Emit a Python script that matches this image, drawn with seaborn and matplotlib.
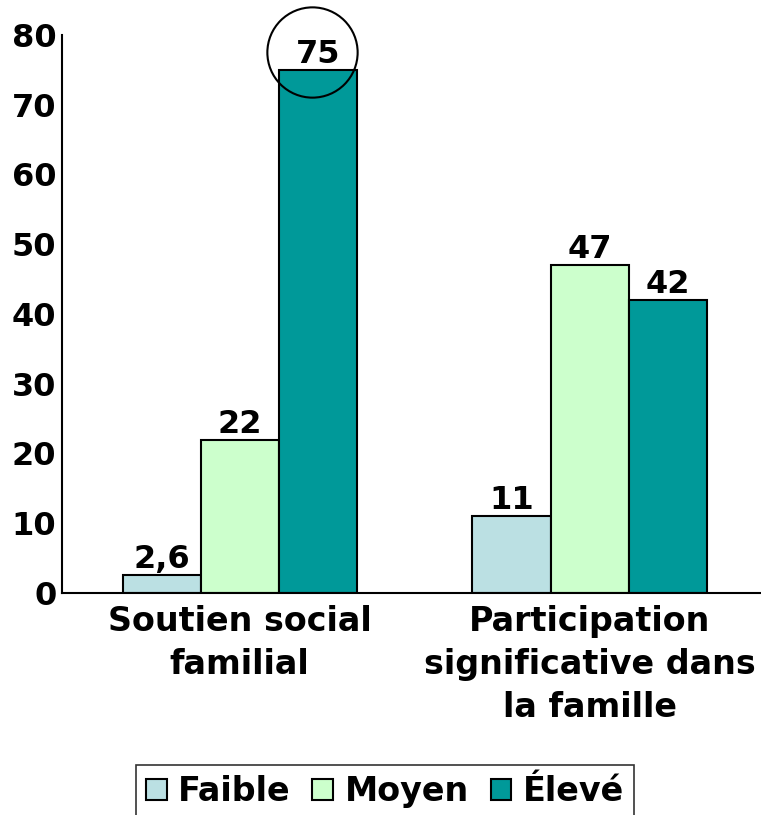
import matplotlib
matplotlib.use("Agg")
import matplotlib.pyplot as plt
import pandas as pd
import seaborn as sns

# Data
categories = ["Soutien social\nfamilial", "Participation\nsignificative dans\nla famille"]
levels = ["Faible", "Moyen", "Élevé"]
faible = [2.6, 11]
moyen = [22, 47]
eleve = [75, 42]
level_colors = ["#BBE0E3", "#CCFFCC", "#009999"]
y_ticks = [0, 10, 20, 30, 40, 50, 60, 70, 80]

rows = []
for level, values in zip(levels, [faible, moyen, eleve]):
    for cat, val in zip(categories, values):
        rows.append({"categorie": cat, "niveau": level, "valeur": val})
df = pd.DataFrame(rows)

sns.set_style("white")
plt.rcParams["font.family"] = ["DejaVu Sans"]
plt.rcParams["font.weight"] = "bold"
plt.rcParams["text.color"] = "black"
plt.rcParams["xtick.color"] = "black"
plt.rcParams["ytick.color"] = "black"

fig = plt.figure(figsize=(7.61, 8.15), dpi=100)
ax = fig.add_axes([0.0815, 0.2724, 0.9185, 0.6847])

sns.barplot(
    data=df, x="categorie", y="valeur", hue="niveau",
    hue_order=levels, palette=level_colors, saturation=1, width=0.67,
    edgecolor="black", linewidth=1.5, ax=ax, legend=True,
)

ax.set_xlim(-0.508, 1.49)
ax.set_ylim(0, 80)
ax.set_yticks(y_ticks)
ax.tick_params(axis="y", length=0, pad=4, labelsize=23)
ax.tick_params(axis="x", length=0, pad=9, labelsize=24)
for lbl in ax.get_xticklabels() + ax.get_yticklabels():
    lbl.set_fontweight("bold")
for lbl in ax.get_xticklabels():
    lbl.set_linespacing(1.38)
ax.set_xlabel("")
ax.set_ylabel("")
for side in ["top", "right"]:
    ax.spines[side].set_visible(False)
for side in ["left", "bottom"]:
    ax.spines[side].set_color("black")
    ax.spines[side].set_linewidth(1.5)

# value labels, comma as decimal separator
for container in ax.containers:
    labels = [f"{v:g}".replace(".", ",") for v in container.datavalues]
    ax.bar_label(container, labels=labels, padding=0, fontsize=23,
                 fontweight="bold", color="black")

# circle around the highest bar label
top_bar = ax.containers[2].patches[0]
cx = top_bar.get_x() + top_bar.get_width() / 2 - 0.017
ax.plot([cx], [eleve[0] + 2.5], marker="o", markersize=65,
        markerfacecolor="none", markeredgecolor="black",
        markeredgewidth=1.5, clip_on=False)

handles, labels = ax.get_legend_handles_labels()
ax.legend_.remove()
leg = fig.legend(
    handles, labels, loc="upper center", bbox_to_anchor=(0.506, 0.061),
    ncol=3, frameon=True, fancybox=False, edgecolor="black",
    prop={"size": 24, "weight": "bold"}, handlelength=0.62,
    handleheight=0.62, handletextpad=0.35, columnspacing=0.65,
    borderpad=0.3, borderaxespad=0,
)
leg.get_frame().set_linewidth(1.2)

fig.savefig("out.png", dpi=100)
plt.close(fig)
